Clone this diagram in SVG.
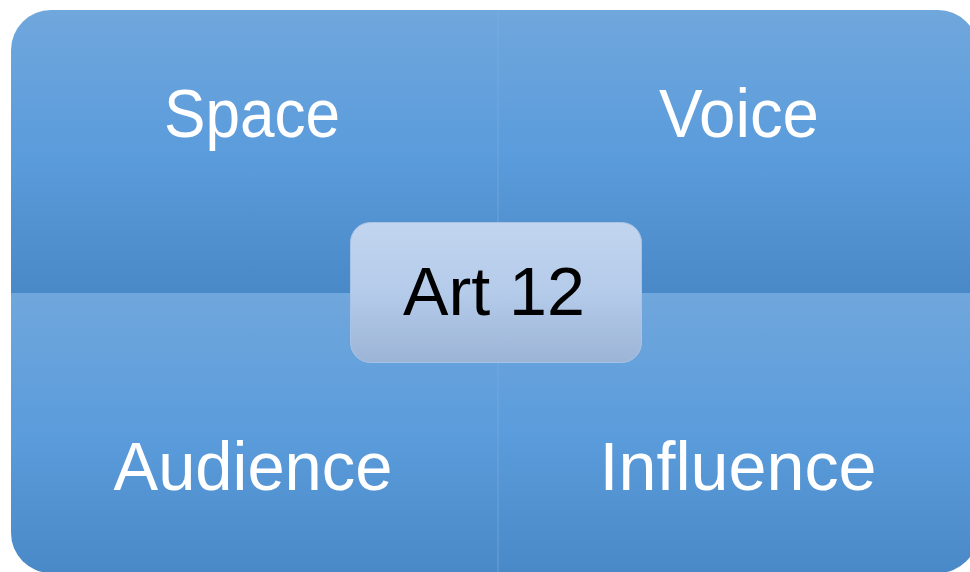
<svg xmlns="http://www.w3.org/2000/svg" width="970" height="572" viewBox="0 0 970 572">
  <defs>
    <linearGradient id="q" x1="0" y1="0" x2="0" y2="1">
      <stop offset="0" stop-color="#70a7dc"/>
      <stop offset="0.5" stop-color="#5b9cdc"/>
      <stop offset="1" stop-color="#4a89c7"/>
    </linearGradient>
    <linearGradient id="c" x1="0" y1="0" x2="0" y2="1">
      <stop offset="0" stop-color="#c2d5ef"/>
      <stop offset="0.5" stop-color="#b4cbea"/>
      <stop offset="1" stop-color="#9cb4d6"/>
    </linearGradient>
  </defs>
  <style>
    .quad { fill: url(#q); }
    .lbl { font-family: "Liberation Sans", Arial, sans-serif; font-size: 68px; fill: #ffffff; text-anchor: middle; }
    .ctr { font-family: "Liberation Sans", Arial, sans-serif; font-size: 68px; fill: #000000; text-anchor: middle; }
  </style>
  <rect width="970" height="572" fill="#ffffff"/>
  <g id="space">
    <path class="quad" d="M11,293 V50 A40,40 0 0 1 51,10 H498 V293 Z"/>
    <text class="lbl" x="252" y="137" textLength="176" lengthAdjust="spacingAndGlyphs">Space</text>
  </g>
  <g id="voice">
    <path class="quad" d="M498,10 H938 A40,40 0 0 1 978,50 V293 H498 Z"/>
    <text class="lbl" x="739" y="137" textLength="160" lengthAdjust="spacingAndGlyphs">Voice</text>
  </g>
  <g id="audience">
    <path class="quad" d="M11,293 H498 V573 H51 A40,40 0 0 1 11,533 Z"/>
    <text class="lbl" x="253" y="490" textLength="279" lengthAdjust="spacingAndGlyphs">Audience</text>
  </g>
  <g id="influence">
    <path class="quad" d="M498,293 H978 V533 A40,40 0 0 1 938,573 H498 Z"/>
    <text class="lbl" x="738" y="490" textLength="277" lengthAdjust="spacingAndGlyphs">Influence</text>
  </g>
  <g id="connectors">
    <line x1="498" y1="10" x2="498" y2="573" stroke="#7fb0e0" stroke-width="1" opacity="0.6"/>
  </g>
  <g id="art12">
    <rect x="350.5" y="222.5" width="291" height="140" rx="20" fill="url(#c)" stroke="#a9c3e6" stroke-width="1"/>
    <text class="ctr" x="494" y="315" textLength="182" lengthAdjust="spacingAndGlyphs">Art 12</text>
  </g>
</svg>
